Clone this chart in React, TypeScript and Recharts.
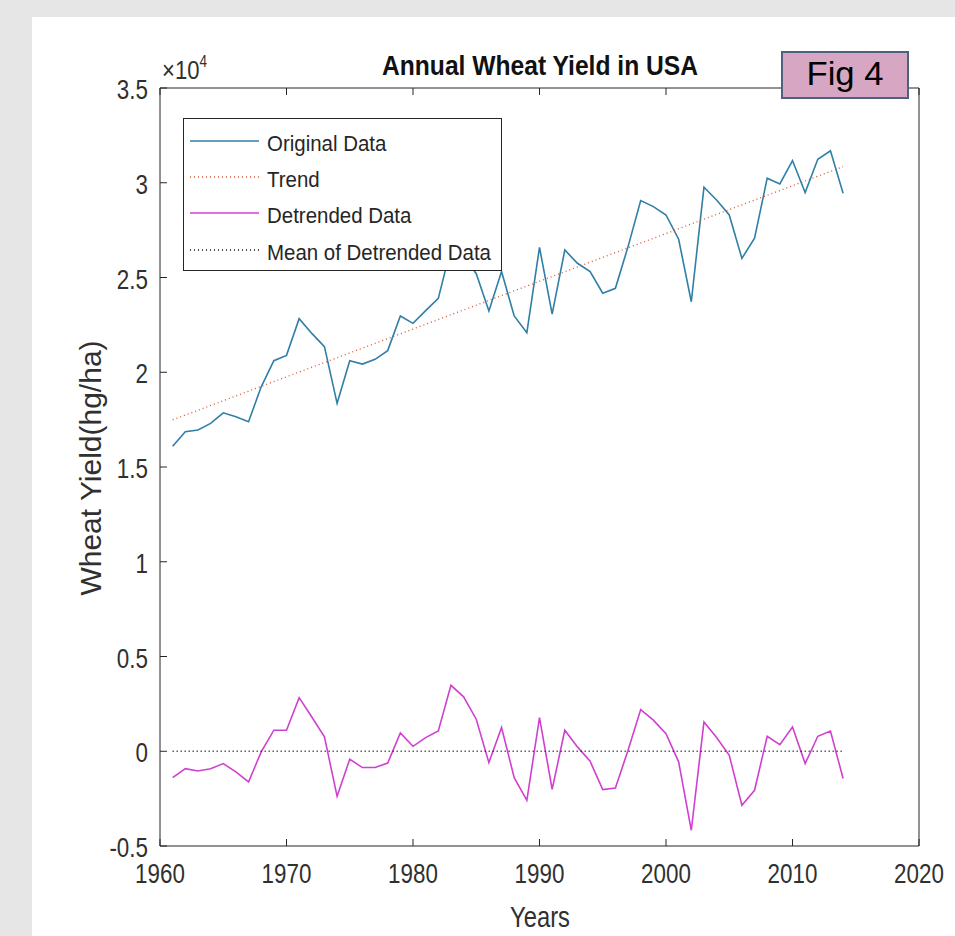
import { LineChart, Line, XAxis, YAxis, Legend } from "recharts";

// US wheat yield, hg/ha, 1961-2014
const years = [
  1961, 1962, 1963, 1964, 1965, 1966, 1967, 1968, 1969, 1970,
  1971, 1972, 1973, 1974, 1975, 1976, 1977, 1978, 1979, 1980,
  1981, 1982, 1983, 1984, 1985, 1986, 1987, 1988, 1989, 1990,
  1991, 1992, 1993, 1994, 1995, 1996, 1997, 1998, 1999, 2000,
  2001, 2002, 2003, 2004, 2005, 2006, 2007, 2008, 2009, 2010,
  2011, 2012, 2013, 2014,
];

const originalYield = [
  16100, 16860, 16950, 17300, 17860, 17650, 17390, 19230, 20610, 20890,
  22830, 22050, 21350, 18360, 20610, 20430, 20680, 21140, 22970, 22580,
  23250, 23900, 26550, 26140, 25200, 23230, 25310, 22970, 22090, 26590,
  23070, 26450, 25750, 25310, 24170, 24430, 26630, 29060, 28740, 28300,
  27020, 23720, 29760, 29090, 28300, 26010, 27070, 30240, 29940, 31170,
  29480, 31240, 31690, 29450,
];

const detrendedYield = [
  -1390, -920, -1040, -920, -650, -1090, -1620, -30, 1110, 1110,
  2830, 1810, 760, -2380, -420, -860, -860, -620, 970, 260,
  720, 1070, 3480, 2870, 1690, -600, 1250, -1390, -2590, 1780,
  -2010, 1110, 230, -530, -2020, -1940, 50, 2200, 1640, 930,
  -560, -4170, 1550, 720, -210, -2850, -2060, 790, 350, 1280,
  -650, 790, 1070, -1440,
];

// linear trend endpoints and the (zero) mean of the detrended series
const trendYears = [1961, 2014];
const trendYield = [17490, 30850];
const meanYears = [1961, 2014];
const meanDetrended = [0, 0];

const yearTicks = [1960, 1970, 1980, 1990, 2000, 2010, 2020];
const yieldTicks = [-5000, 0, 5000, 10000, 15000, 20000, 25000, 30000, 35000];

const rows = years.map((year, i) => ({
  year,
  original: originalYield[i],
  detrended: detrendedYield[i],
}));
const trendRows = trendYears.map((year, i) => ({ year, trend: trendYield[i] }));
const meanRows = meanYears.map((year, i) => ({ year, mean: meanDetrended[i] }));

const W = 955;
const H = 936;
const FONT = "'Liberation Sans', Arial, Helvetica, sans-serif";
const AXIS = "#262626";
const LABEL = "#303030";
const TICK = 7;

const BLUE = "#2f7fa6";
const ORANGE = "#d4562c";
const MAGENTA = "#d040d0";

const legendItems = [
  { name: "Original Data", color: BLUE, dash: undefined },
  { name: "Trend", color: ORANGE, dash: "1 3" },
  { name: "Detrended Data", color: MAGENTA, dash: undefined },
  { name: "Mean of Detrended Data", color: "#111", dash: "1 3" },
];

function BottomTick({ x, y, payload }: any) {
  return (
    <g>
      <line x1={x} y1={y} x2={x} y2={y - TICK} stroke={AXIS} />
      <text
        transform={`translate(${x},${y + 37}) scale(0.8,1)`}
        textAnchor="middle"
        fontFamily={FONT}
        fontSize={28}
        fill={LABEL}
      >
        {payload.value}
      </text>
    </g>
  );
}

function TopTick({ x, y }: any) {
  return <line x1={x} y1={y} x2={x} y2={y + TICK} stroke={AXIS} />;
}

function LeftTick({ x, y, payload }: any) {
  return (
    <g>
      <line x1={x} y1={y} x2={x + TICK} y2={y} stroke={AXIS} />
      <text
        transform={`translate(${x - 12},${y + 11}) scale(0.8,1)`}
        textAnchor="end"
        fontFamily={FONT}
        fontSize={28}
        fill={LABEL}
      >
        {String(payload.value / 10000)}
      </text>
    </g>
  );
}

function RightTick({ x, y }: any) {
  return <line x1={x} y1={y} x2={x - TICK} y2={y} stroke={AXIS} />;
}

function LegendBox() {
  const rowY = [22, 58, 94, 131];
  return (
    <div
      style={{
        width: 319,
        height: 153,
        boxSizing: "border-box",
        border: `1px solid ${AXIS}`,
        background: "#fff",
      }}
    >
      <svg width={317} height={151} style={{ display: "block" }}>
        {legendItems.map((item, i) => (
          <g key={item.name}>
            <line
              x1={6}
              x2={75}
              y1={rowY[i]}
              y2={rowY[i]}
              stroke={item.color}
              strokeWidth={item.dash ? 1.3 : 1.6}
              strokeDasharray={item.dash}
            />
            <text
              transform={`translate(83,${rowY[i] + 10}) scale(0.93,1)`}
              fontFamily={FONT}
              fontSize={22}
              fill={AXIS}
            >
              {item.name}
            </text>
          </g>
        ))}
      </svg>
    </div>
  );
}

export default function App() {
  return (
    <div
      style={{
        position: "absolute",
        left: 0,
        top: 0,
        width: W,
        height: H,
        background: "#e6e6e6",
        overflow: "hidden",
      }}
    >
      <div style={{ position: "absolute", left: 32, top: 17, right: 0, bottom: 0, background: "#fff" }} />
      <div style={{ position: "absolute", left: 0, top: 0 }}>
        <LineChart
          width={W}
          height={H}
          data={rows}
          margin={{ top: 87, right: 35, bottom: 40, left: 100 }}
        >
          <XAxis
            dataKey="year"
            type="number"
            domain={[1960, 2020]}
            ticks={yearTicks}
            interval={0}
            height={50}
            tickSize={0}
            tickMargin={0}
            tickLine={false}
            axisLine={{ stroke: AXIS }}
            tick={<BottomTick />}
          />
          <XAxis
            xAxisId="top"
            orientation="top"
            dataKey="year"
            type="number"
            domain={[1960, 2020]}
            ticks={yearTicks}
            interval={0}
            height={1}
            tickSize={0}
            tickMargin={0}
            tickLine={false}
            axisLine={{ stroke: AXIS }}
            tick={<TopTick />}
          />
          <YAxis
            type="number"
            domain={[-5000, 35000]}
            ticks={yieldTicks}
            interval={0}
            width={60}
            tickSize={0}
            tickMargin={0}
            tickLine={false}
            axisLine={{ stroke: AXIS }}
            tick={<LeftTick />}
          />
          <YAxis
            yAxisId="right"
            orientation="right"
            type="number"
            domain={[-5000, 35000]}
            ticks={yieldTicks}
            interval={0}
            width={1}
            tickSize={0}
            tickMargin={0}
            tickLine={false}
            axisLine={{ stroke: AXIS }}
            tick={<RightTick />}
          />
          <Line
            dataKey="original"
            name="Original Data"
            stroke={BLUE}
            strokeWidth={1.6}
            dot={false}
            activeDot={false}
            isAnimationActive={false}
          />
          <Line
            data={trendRows}
            dataKey="trend"
            name="Trend"
            stroke={ORANGE}
            strokeWidth={1.3}
            strokeDasharray="1 3"
            dot={false}
            activeDot={false}
            isAnimationActive={false}
          />
          <Line
            dataKey="detrended"
            name="Detrended Data"
            stroke={MAGENTA}
            strokeWidth={1.6}
            dot={false}
            activeDot={false}
            isAnimationActive={false}
          />
          <Line
            data={meanRows}
            dataKey="mean"
            name="Mean of Detrended Data"
            stroke="#111"
            strokeWidth={1.3}
            strokeDasharray="1 3"
            dot={false}
            activeDot={false}
            isAnimationActive={false}
          />
          <Legend
            layout="vertical"
            align="center"
            verticalAlign="middle"
            wrapperStyle={{ left: 183, top: 118, width: 319, height: 153 }}
            content={() => <LegendBox />}
          />
        </LineChart>
      </div>
      <svg
        width={W}
        height={H}
        style={{ position: "absolute", left: 0, top: 0, pointerEvents: "none" }}
      >
        <text
          transform="translate(540,75) scale(0.88,1)"
          textAnchor="middle"
          fontFamily={FONT}
          fontSize={28}
          fontWeight="bold"
          fill="#111"
        >
          Annual Wheat Yield in USA
        </text>
        <text transform="translate(162,79) scale(0.85,1)" fontFamily={FONT} fontSize={26} fill={LABEL}>
          ×10
          <tspan dy={-12} fontSize={16}>
            4
          </tspan>
        </text>
        <text
          transform="translate(101,468) rotate(-90)"
          textAnchor="middle"
          fontFamily={FONT}
          fontSize={30}
          fill={LABEL}
        >
          Wheat Yield(hg/ha)
        </text>
        <text
          transform="translate(540,927) scale(0.82,1)"
          textAnchor="middle"
          fontFamily={FONT}
          fontSize={29}
          fill={LABEL}
        >
          Years
        </text>
        <rect x={782} y={52} width={126} height={46} fill="#d6a6c3" stroke="#4f6080" strokeWidth={2} />
        <text
          transform="translate(845,85) scale(1.05,1)"
          textAnchor="middle"
          fontFamily={FONT}
          fontSize={33}
          fill="#000"
        >
          Fig 4
        </text>
      </svg>
    </div>
  );
}
